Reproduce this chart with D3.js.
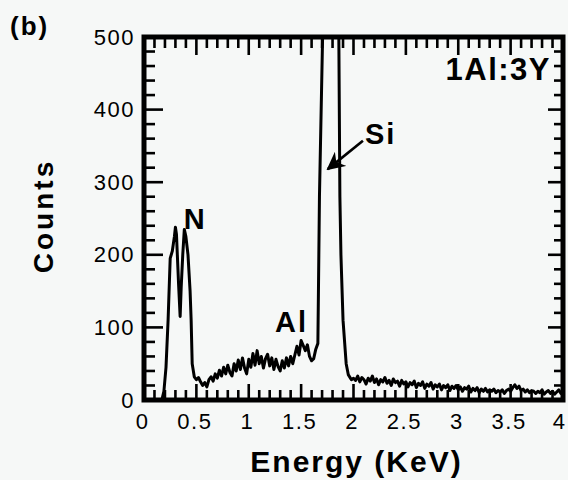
<html>
<head>
  <script src="https://d3js.org/d3.v7.min.js"></script>
  <style>
    body {
      background-color: #f6f8f7;
      margin: 0;
      padding: 0;
      overflow: hidden;
    }
  </style>
</head>
<body>
  <svg width="568" height="480"></svg>

  <script>
    // spectrum: [energy (keV), counts]
    const spectrum = [
      [0.00, 0], [0.17, 0], [0.19, 12], [0.21, 45], [0.23, 110], [0.25, 195], [0.27, 205], [0.29, 225],
      [0.30, 238], [0.31, 228], [0.33, 160], [0.345, 115], [0.355, 155], [0.37, 200], [0.385, 235], [0.40, 225],
      [0.42, 200], [0.44, 150], [0.45, 110], [0.46, 50], [0.48, 32],
      [0.50, 28], [0.52, 31], [0.54, 25], [0.56, 20], [0.58, 24], [0.60, 18], [0.62, 28], [0.64, 32],
      [0.66, 26], [0.68, 36], [0.70, 30], [0.72, 41], [0.74, 33], [0.76, 45], [0.78, 36], [0.80, 48],
      [0.82, 38], [0.84, 33], [0.86, 50], [0.88, 40], [0.90, 55], [0.92, 42], [0.94, 58], [0.96, 44],
      [0.98, 36], [1.00, 56], [1.02, 45], [1.04, 64], [1.06, 48], [1.08, 68], [1.10, 50], [1.12, 60],
      [1.14, 44], [1.16, 57], [1.18, 63], [1.20, 47], [1.22, 58], [1.24, 42], [1.26, 56], [1.28, 46],
      [1.30, 40], [1.32, 54], [1.34, 44], [1.36, 58], [1.38, 47], [1.40, 60], [1.42, 50], [1.44, 62],
      [1.46, 74], [1.48, 62], [1.50, 82], [1.52, 75], [1.54, 68], [1.56, 76], [1.58, 60], [1.60, 54],
      [1.62, 57], [1.64, 70], [1.66, 78],
      [1.675, 280], [1.705, 500], [1.78, 650], [1.86, 500], [1.87, 280], [1.88, 200], [1.90, 110],
      [1.92, 70], [1.93, 50], [1.95, 35], [1.98, 28],
      [2.00, 30], [2.02, 27], [2.04, 33], [2.06, 25], [2.08, 31], [2.10, 28], [2.12, 22], [2.14, 30],
      [2.16, 26], [2.18, 33], [2.20, 24], [2.22, 29], [2.24, 21], [2.26, 28], [2.28, 25], [2.30, 31],
      [2.32, 23], [2.34, 27], [2.36, 20], [2.38, 29], [2.40, 24], [2.42, 26], [2.44, 19], [2.46, 27],
      [2.48, 22], [2.50, 25], [2.52, 18], [2.54, 24], [2.56, 21], [2.58, 26], [2.60, 17], [2.62, 23],
      [2.64, 20], [2.66, 25], [2.68, 16], [2.70, 22], [2.72, 19], [2.74, 24], [2.76, 15], [2.78, 21],
      [2.80, 18], [2.82, 22], [2.84, 14], [2.86, 20], [2.88, 17], [2.90, 21], [2.92, 13], [2.94, 19],
      [2.96, 16], [2.98, 20], [3.00, 14], [3.02, 18], [3.04, 12], [3.06, 17], [3.08, 15], [3.10, 19],
      [3.12, 11], [3.14, 16], [3.16, 13], [3.18, 17], [3.20, 10], [3.22, 15], [3.24, 12], [3.26, 16],
      [3.28, 11], [3.30, 14], [3.32, 12], [3.34, 15], [3.36, 10], [3.38, 13], [3.40, 11], [3.42, 14],
      [3.44, 9], [3.46, 13], [3.48, 15], [3.50, 12], [3.52, 17], [3.54, 21], [3.56, 16], [3.58, 19],
      [3.60, 13], [3.62, 15], [3.64, 11], [3.66, 14], [3.68, 10], [3.70, 13], [3.72, 12], [3.74, 9],
      [3.76, 12], [3.78, 10], [3.80, 14], [3.82, 8], [3.84, 11], [3.86, 13], [3.88, 9], [3.90, 12],
      [3.92, 8], [3.94, 11], [3.96, 14], [3.98, 9], [4.00, 11]
    ];

    const xMajor = [0, 0.5, 1, 1.5, 2, 2.5, 3, 3.5, 4];
    const xLabels = ["0", "0.5", "1", "1.5", "2", "2.5", "3", "3.5", "4"];
    const xMinor = d3.range(0, 41).map(i => i / 10);
    const yMajor = [0, 100, 200, 300, 400, 500];
    const yMinor = d3.range(0, 26).map(i => i * 20);

    const peakLabels = [
      { text: "N", e: 0.38, c: 236 },
      { text: "Al", e: 1.25, c: 93 },
      { text: "Si", e: 2.11, c: 353 }
    ];

    const svg = d3.select("svg");
    const pLeft = 144, pRight = 563, pTop = 37, pBottom = 400;

    const x = d3.scaleLinear().domain([0, 4]).range([pLeft, pRight]);
    const y = d3.scaleLinear().domain([0, 500]).range([pBottom, pTop]);

    svg.append("clipPath").attr("id", "plot")
      .append("rect")
      .attr("x", pLeft).attr("y", pTop)
      .attr("width", pRight - pLeft).attr("height", pBottom - pTop);

    // spectrum
    const spectrumLine = d3.line().x(d => x(d[0])).y(d => y(d[1]));
    svg.append("path")
      .datum(spectrum)
      .attr("clip-path", "url(#plot)")
      .attr("fill", "none")
      .attr("stroke", "#000")
      .attr("stroke-width", 3)
      .attr("stroke-linejoin", "round")
      .attr("d", spectrumLine);

    // frame
    svg.append("rect")
      .attr("x", pLeft).attr("y", pTop)
      .attr("width", pRight - pLeft).attr("height", pBottom - pTop)
      .attr("fill", "none")
      .attr("stroke", "#000")
      .attr("stroke-width", 5);

    // inside ticks on all four sides
    const isXMajor = d => Math.abs(d * 2 - Math.round(d * 2)) < 1e-6;
    const isYMajor = d => d % 100 === 0;

    function tickLines(cls, values) {
      return svg.append("g").selectAll("line").data(values).join("line")
        .attr("class", cls)
        .attr("stroke", "#000")
        .attr("stroke-width", 2.6);
    }
    tickLines("tb", xMinor)
      .attr("x1", d => x(d)).attr("x2", d => x(d))
      .attr("y1", pBottom).attr("y2", d => pBottom - (isXMajor(d) ? 16 : 10));
    tickLines("tt", xMinor)
      .attr("x1", d => x(d)).attr("x2", d => x(d))
      .attr("y1", pTop).attr("y2", d => pTop + (isXMajor(d) ? 18 : 11));
    tickLines("tl", yMinor)
      .attr("y1", d => y(d)).attr("y2", d => y(d))
      .attr("x1", pLeft).attr("x2", d => pLeft + (isYMajor(d) ? 19 : 11));
    tickLines("tr", yMinor)
      .attr("y1", d => y(d)).attr("y2", d => y(d))
      .attr("x1", pRight).attr("x2", d => pRight - (isYMajor(d) ? 15 : 9));

    // tick labels
    const xl = svg.append("g")
      .attr("transform", `translate(0,${pBottom})`)
      .call(d3.axisBottom(x).tickValues(xMajor).tickSize(0).tickPadding(13)
        .tickFormat((d, i) => xLabels[i]));
    xl.select(".domain").remove();
    xl.selectAll("text").attr("font-size", 22).attr("fill", "#000")
      .attr("font-family", "Liberation Sans, Arial, sans-serif")
      .attr("dx", d => d === 4 ? -4 : -2)
      .style("letter-spacing", "1.5px");

    const yl = svg.append("g")
      .attr("transform", `translate(${pLeft},0)`)
      .call(d3.axisLeft(y).tickValues(yMajor).tickSize(0).tickPadding(9));
    yl.select(".domain").remove();
    yl.selectAll("text").attr("font-size", 22).attr("fill", "#000")
      .attr("font-family", "Liberation Sans, Arial, sans-serif")
      .style("letter-spacing", "1.5px");

    // axis titles and captions
    const bold = sel => sel
      .attr("font-family", "Liberation Sans, Arial, sans-serif")
      .attr("font-weight", "bold")
      .attr("fill", "#000");

    svg.append("text").call(bold)
      .attr("x", (pLeft + pRight) / 2 + 3)
      .attr("y", 472)
      .attr("text-anchor", "middle")
      .attr("font-size", 30)
      .style("letter-spacing", "2px")
      .text("Energy  (KeV)");

    svg.append("text").call(bold)
      .attr("transform", "translate(53,216) rotate(-90)")
      .attr("text-anchor", "middle")
      .attr("font-size", 28)
      .style("letter-spacing", "3px")
      .text("Counts");

    svg.append("text").call(bold)
      .attr("x", 10).attr("y", 35)
      .attr("font-size", 26)
      .style("letter-spacing", "2px")
      .text("(b)");

    svg.append("text").call(bold)
      .attr("x", pRight - 12).attr("y", 80)
      .attr("text-anchor", "end")
      .attr("font-size", 31)
      .style("letter-spacing", "1.5px")
      .text("1Al:3Y");

    // peak labels
    svg.selectAll(".peak")
      .data(peakLabels)
      .enter().append("text")
      .attr("class", "peak")
      .call(bold)
      .attr("x", d => x(d.e))
      .attr("y", d => y(d.c))
      .attr("font-size", 29)
      .style("letter-spacing", "2px")
      .text(d => d.text);

    // arrow to the Si peak
    svg.append("defs").append("marker")
      .attr("id", "head")
      .attr("viewBox", "0 0 10 10")
      .attr("refX", 9).attr("refY", 5)
      .attr("markerWidth", 7).attr("markerHeight", 7)
      .attr("markerUnits", "strokeWidth")
      .attr("orient", "auto")
      .append("path")
      .attr("d", "M0,0 L10,5 L0,10 L3,5 Z")
      .attr("fill", "#000");

    svg.append("line")
      .attr("x1", x(2.09)).attr("y1", y(357))
      .attr("x2", x(1.755)).attr("y2", y(318))
      .attr("stroke", "#000")
      .attr("stroke-width", 2.6)
      .attr("marker-end", "url(#head)");
  </script>
</body>
</html>
